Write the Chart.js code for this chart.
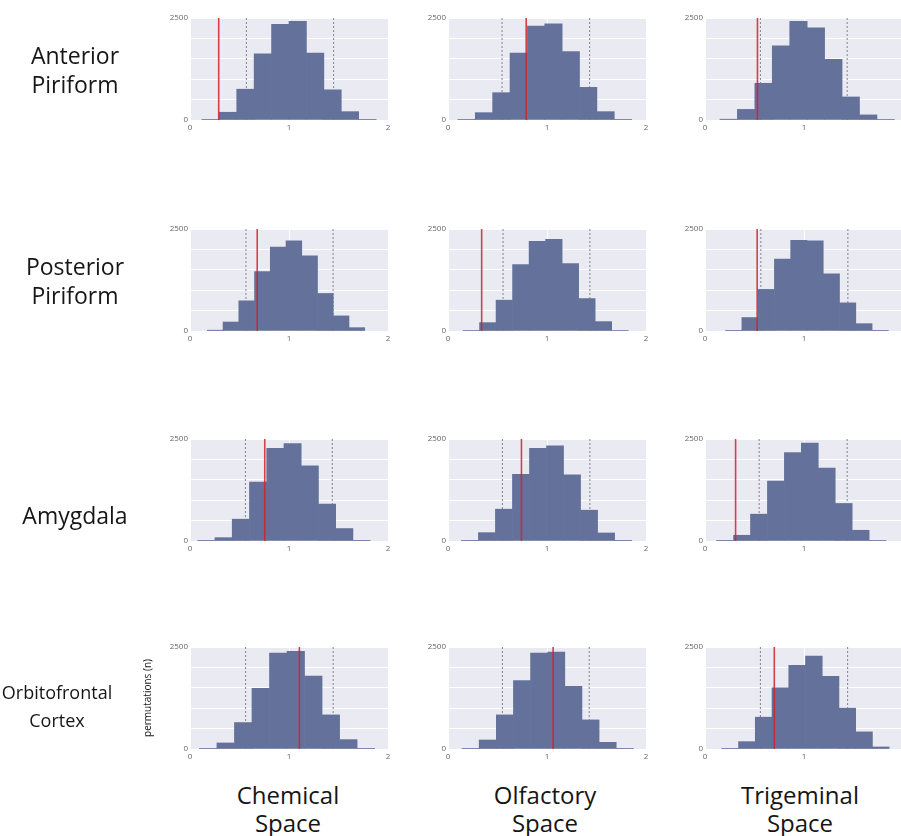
<!DOCTYPE html>
<html>
<head>
<meta charset="utf-8">
<script src="https://cdn.jsdelivr.net/npm/chart.js@4.4.0/dist/chart.umd.min.js"></script>
<style>
  html, body { margin: 0; padding: 0; background: #fff; overflow: hidden; }
  body { width: 901px; height: 836px; position: relative; font-family: "Open Sans", sans-serif; color: #161616; }
  canvas { position: absolute; }
  .lab { position: absolute; text-align: center; white-space: pre-line; }
</style>
</head>
<body>
<script>
// rows: brain regions, columns: spaces
const regions = ['Anterior\nPiriform', 'Posterior\nPiriform', 'Amygdala', 'Orbitofrontal\nCortex'];
const spaces = ['Chemical\nSpace', 'Olfactory\nSpace', 'Trigeminal\nSpace'];
const xTicks = [0, 1, 2];
const yTickLabels = [0, 2500];

// histogram counts, 10 bins per panel (chemical, olfactory, trigeminal)
const anteriorCounts = [
  [16, 190, 755, 1620, 2345, 2420, 1640, 740, 205, 16],
  [16, 180, 670, 1640, 2300, 2360, 1680, 800, 205, 16],
  [20, 260, 900, 1820, 2420, 2260, 1490, 565, 125, 15]
];
const posteriorCounts = [
  [20, 220, 740, 1455, 2055, 2210, 1840, 920, 370, 82],
  [10, 205, 755, 1625, 2200, 2245, 1655, 795, 230, 10],
  [16, 330, 1020, 1760, 2220, 2210, 1400, 690, 180, 16]
];
const amygdalaCounts = [
  [8, 82, 535, 1447, 2270, 2385, 1840, 905, 305, 8],
  [8, 205, 780, 1635, 2270, 2335, 1620, 755, 197, 8],
  [8, 140, 658, 1470, 2170, 2400, 1785, 920, 263, 16]
];
const ofcCounts = [
  [16, 148, 648, 1484, 2353, 2395, 1787, 836, 230, 16],
  [16, 221, 836, 1680, 2353, 2377, 1533, 713, 164, 16],
  [16, 180, 780, 1500, 2050, 2280, 1780, 1000, 420, 50]
];
const allCounts = [anteriorCounts, posteriorCounts, amygdalaCounts, ofcCounts];

// first and last bin edge of each histogram
const binLo = [[0.12, 0.10, 0.151], [0.175, 0.152, 0.208], [0.078, 0.135, 0.117], [0.095, 0.142, 0.17]];
const binHi = [[1.88, 1.855, 1.913], [1.765, 1.82, 1.852], [1.82, 1.855, 1.829], [1.865, 1.872, 1.86]];

// observed value (red) and permutation bounds (dotted)
const observed = [[0.29, 0.79, 0.53], [0.679, 0.34, 0.527], [0.755, 0.742, 0.309], [1.105, 1.062, 0.70]];
const lowerBound = [[0.57, 0.546, 0.56], [0.565, 0.556, 0.564], [0.56, 0.55, 0.547], [0.561, 0.55, 0.56]];
const upperBound = [[1.45, 1.43, 1.436], [1.445, 1.433, 1.443], [1.437, 1.433, 1.436], [1.446, 1.427, 1.44]];

// layout of the plot areas in page pixels
const plotLeft = [190, 448, 705];
const plotWidth = 198;
const plotTop = [18, 229, 439, 647];
const plotHeight = 102;
const PAD_L = 32, PAD_T = 8, PAD_R = 12, PAD_B = 20;

const plotBg = {
  id: 'plotBg',
  beforeDraw(chart) {
    const { ctx, chartArea: a } = chart;
    ctx.save();
    ctx.fillStyle = '#eaeaf2';
    ctx.fillRect(a.left, a.top, a.right - a.left, a.bottom - a.top);
    ctx.restore();
  }
};

function vline(x, color, width, dash, order) {
  return {
    type: 'line',
    data: [{ x: x, y: 0 }, { x: x, y: 2500 }],
    borderColor: color,
    borderWidth: width,
    borderDash: dash,
    pointRadius: 0,
    order: order
  };
}

function makePanel(r, c) {
  const counts = allCounts[r][c];
  const w = (binHi[r][c] - binLo[r][c]) / counts.length;
  const bars = counts.map((v, i) => ({ x: binLo[r][c] + (i + 0.5) * w, y: v }));

  const canvas = document.createElement('canvas');
  canvas.width = plotWidth + PAD_L + PAD_R;
  canvas.height = plotHeight + PAD_T + PAD_B;
  canvas.style.left = (plotLeft[c] - PAD_L) + 'px';
  canvas.style.top = (plotTop[r] - PAD_T) + 'px';
  document.body.appendChild(canvas);

  const tickFont = { family: '"Open Sans", sans-serif', size: 8 };

  new Chart(canvas.getContext('2d'), {
    type: 'bar',
    data: {
      datasets: [
        {
          type: 'bar',
          data: bars,
          backgroundColor: '#64729b',
          borderWidth: 0,
          barPercentage: 1,
          categoryPercentage: 1,
          order: 1
        },
        vline(observed[r][c], 'rgba(212, 32, 42, 0.85)', 1.6, [], 0),
        vline(lowerBound[r][c], '#8c8c98', 1.1, [2, 2], 2),
        vline(upperBound[r][c], '#8c8c98', 1.1, [2, 2], 2)
      ]
    },
    options: {
      responsive: false,
      animation: false,
      layout: { padding: { top: PAD_T, right: PAD_R, left: 0, bottom: 0 } },
      plugins: { legend: { display: false }, tooltip: { enabled: false } },
      scales: {
        x: {
          type: 'linear',
          min: 0,
          max: 2,
          offset: false,
          afterFit: (s) => { s.height = PAD_B; },
          afterBuildTicks: (s) => { s.ticks = xTicks.map((v) => ({ value: v })); },
          ticks: { font: tickFont, color: '#666', padding: 3, maxRotation: 0 },
          grid: { color: '#ffffff', drawTicks: false, offset: false },
          border: { display: false }
        },
        y: {
          min: 0,
          max: 2500,
          afterFit: (s) => { s.width = PAD_L; },
          ticks: {
            stepSize: 500,
            font: tickFont,
            color: '#666',
            padding: 2,
            callback: (v) => (yTickLabels.includes(v) ? String(v) : '')
          },
          grid: { color: '#ffffff', drawTicks: false },
          border: { display: false }
        }
      }
    },
    plugins: [plotBg]
  });
}

function addLabel(text, cx, cy, size, lh) {
  const div = document.createElement('div');
  div.className = 'lab';
  const lines = text.split('\n').length;
  div.textContent = text;
  div.style.width = '240px';
  div.style.left = (cx - 120) + 'px';
  div.style.top = (cy - lines * lh / 2) + 'px';
  div.style.fontSize = size + 'px';
  div.style.lineHeight = lh + 'px';
  document.body.appendChild(div);
}

for (let r = 0; r < regions.length; r++) {
  for (let c = 0; c < spaces.length; c++) makePanel(r, c);
}

addLabel(regions[0], 75, 70, 23, 29);
addLabel(regions[1], 75, 281, 23, 29);
addLabel(regions[2], 75, 515, 23, 29);
addLabel(regions[3], 57, 706, 18, 28);

addLabel(spaces[0], 288, 809, 24, 28);
addLabel(spaces[1], 545, 809, 24, 28);
addLabel(spaces[2], 800, 809, 24, 28);

const yTitle = document.createElement('div');
yTitle.className = 'lab';
yTitle.textContent = 'permutations (n)';
yTitle.style.cssText += 'width:120px;left:87px;top:691px;font-size:10px;line-height:14px;transform:rotate(-90deg);';
document.body.appendChild(yTitle);
</script>
</body>
</html>
